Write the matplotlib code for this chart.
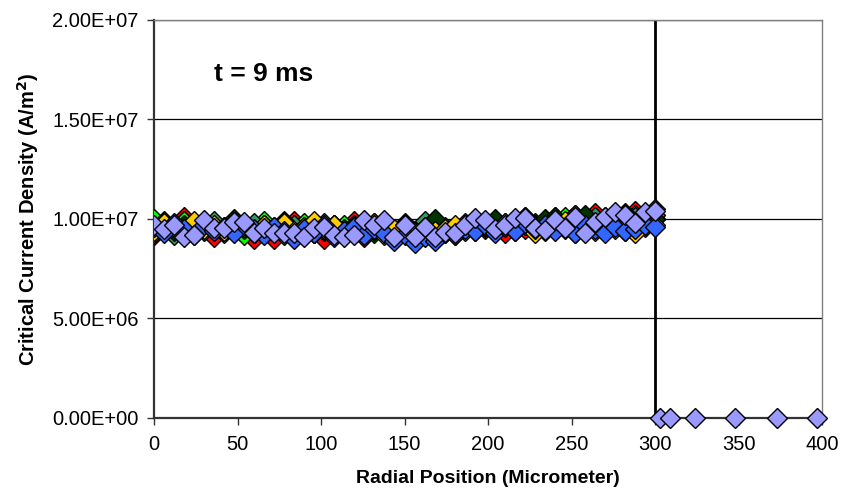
import matplotlib
matplotlib.use("Agg")
import matplotlib.pyplot as plt
from matplotlib.ticker import MultipleLocator, FuncFormatter
import numpy as np

plt.rcParams['font.family'] = ['Liberation Sans', 'DejaVu Sans']

# radial positions (micrometer) of the sampled grains
radius = np.arange(0, 301, 6)

# critical current density, in units of 1E+06 A/m^2
red = [9.2, 9.6, 9.3, 10.1, 9.4, 9.8, 9.1, 9.6, 9.9, 9.3,
       9.0, 9.5, 9.0, 9.6, 9.9, 9.2, 9.6, 9.0, 9.7, 9.3,
       9.9, 9.1, 9.5, 9.6, 9.1, 9.4, 9.0, 9.6, 9.1, 9.3,
       9.2, 9.7, 9.4, 9.6, 9.9, 9.3, 10.0, 9.5, 9.8, 9.4,
       10.1, 9.5, 10.2, 9.6, 10.3, 9.7, 9.9, 9.4, 10.4, 9.6,
       10.5]
green = [10.0, 9.4, 9.7, 9.9, 9.3, 9.6, 9.8, 9.5, 9.7, 9.2,
         9.6, 9.9, 9.4, 9.7, 9.5, 9.8, 9.3, 9.6, 9.4, 9.7,
         9.5, 9.8, 9.3, 9.6, 9.2, 9.7, 9.4, 9.5, 9.3, 9.6,
         9.5, 9.8, 9.6, 9.9, 9.5, 9.8, 9.7, 10.0, 9.6, 9.9,
         9.8, 10.1, 9.7, 9.9, 10.0, 9.6, 10.1, 9.8, 10.2, 9.9,
         10.0]
sea_green = [9.3, 9.7, 9.2, 9.5, 9.8, 9.4, 9.9, 9.3, 9.6, 9.5,
             9.8, 9.4, 9.6, 9.2, 9.7, 9.5, 9.3, 9.8, 9.6, 9.4,
             9.7, 9.3, 9.8, 9.5, 9.2, 9.6, 9.4, 9.9, 9.3, 9.5,
             9.4, 9.6, 9.8, 9.5, 9.9, 9.7, 9.6, 10.1, 9.7, 9.9,
             10.0, 9.7, 10.2, 9.8, 10.1, 9.6, 10.2, 9.9, 10.1, 9.7,
             10.2]
dark_green = [9.5, 9.9, 9.4, 9.7, 9.3, 9.8, 9.6, 9.4, 10.0, 9.6,
              9.4, 9.7, 9.5, 9.9, 9.3, 9.6, 9.8, 9.4, 9.7, 9.5,
              9.6, 9.9, 9.4, 9.7, 9.5, 9.8, 9.3, 9.6, 10.0, 9.4,
              9.5, 9.7, 9.9, 9.6, 10.0, 9.7, 9.8, 10.1, 9.6, 10.0,
              10.1, 9.8, 10.0, 10.2, 9.7, 10.1, 9.9, 10.3, 9.8, 10.1,
              10.0]
gold = [9.4, 9.8, 9.6, 9.3, 9.9, 9.5, 9.7, 9.4, 9.8, 9.6,
        9.3, 9.7, 9.5, 9.8, 9.4, 9.6, 9.9, 9.5, 9.7, 9.3,
        9.6, 9.4, 9.8, 9.2, 9.5, 9.7, 9.3, 9.6, 9.4, 9.5,
        9.7, 9.4, 9.6, 9.9, 9.5, 9.8, 9.4, 9.7, 9.3, 9.6,
        9.5, 9.9, 9.3, 9.7, 9.4, 9.8, 9.5, 9.6, 9.3, 9.8,
        9.7]
blue = [9.6, 9.3, 9.8, 9.5, 9.2, 9.7, 9.4, 9.6, 9.3, 9.7,
        9.5, 9.2, 9.6, 9.4, 9.0, 9.5, 9.3, 9.7, 9.1, 9.4,
        9.6, 9.2, 9.5, 9.3, 8.9, 9.2, 8.8, 9.1, 8.9, 9.3,
        9.2, 9.5, 9.4, 9.7, 9.3, 9.6, 9.4, 9.8, 9.5, 9.7,
        9.4, 9.6, 9.3, 9.7, 9.5, 9.3, 9.6, 9.4, 9.5, 9.7,
        9.6]
lavender = [9.7, 9.5, 9.7, 9.1, 9.2, 9.95, 9.55, 9.55, 9.85, 9.85,
            9.3, 9.55, 9.3, 9.3, 9.3, 9.1, 9.55, 9.6, 9.2, 9.1,
            9.2, 9.95, 9.7, 9.95, 9.1, 9.7, 9.1, 9.6, 9.1, 9.35,
            9.3, 9.7, 10.05, 9.95, 9.5, 9.7, 10.05, 10.05, 9.55, 9.45,
            9.95, 9.55, 10.1, 9.3, 9.85, 10.1, 10.35, 10.2, 9.8, 10.35,
            10.4]

# grains beyond the boundary that carry no current
outer_radius = [303, 309, 324, 348, 373, 397]
outer_jc = [0, 0, 0, 0, 0, 0]

boundary = 300
scale = 1e6

series = [
    (red, '#FF0000'),
    (green, '#00FF00'),
    (sea_green, '#339966'),
    (dark_green, '#003300'),
    (gold, '#FFCC00'),
    (blue, '#3366FF'),
    (lavender, '#9999FF'),
]

fig = plt.figure(figsize=(8.49, 4.91), dpi=100)
ax = fig.add_axes([0.1814, 0.1487, 0.7868, 0.8106])

ax.yaxis.grid(True, color='black', lw=0.9, zorder=0)
ax.axvline(boundary, color='black', lw=2, zorder=1)

for vals, col in series:
    ax.plot(radius, np.array(vals) * scale, ls='none', marker='D', ms=10,
            mfc=col, mec='black', mew=1, zorder=3)
ax.plot(outer_radius, np.array(outer_jc) * scale, ls='none', marker='D', ms=10,
        mfc='#9999FF', mec='black', mew=1, zorder=3, clip_on=False)

ax.set_xlim(0, 400)
ax.set_ylim(0, 2e7)
ax.xaxis.set_major_locator(MultipleLocator(50))
ax.yaxis.set_major_locator(MultipleLocator(5e6))
ax.yaxis.set_major_formatter(FuncFormatter(lambda v, p: '%.2E' % v))
ax.tick_params(axis='both', labelsize=14.5, direction='out', length=5,
               width=1, color='#333333')
ax.tick_params(axis='y', pad=6)
ax.tick_params(axis='x', pad=7)

for s in ['top', 'right']:
    ax.spines[s].set_color('#808080')
    ax.spines[s].set_linewidth(1)
ax.spines['left'].set_color('#333333')
ax.spines['left'].set_linewidth(1.6)
ax.spines['bottom'].set_color('#333333')
ax.spines['bottom'].set_linewidth(1.6)

ax.set_xlabel('Radial Position (Micrometer)', fontsize=14, fontweight='bold', labelpad=12)
ax.set_ylabel('Critical Current Density (A/m$^\\mathbf{2}$)', fontsize=14.5,
              fontweight='bold', labelpad=8)

ax.text(36, 1.73e7, 't = 9 ms', fontsize=19, fontweight='bold', va='center', ha='left')

fig.savefig('out.png', dpi=100)
